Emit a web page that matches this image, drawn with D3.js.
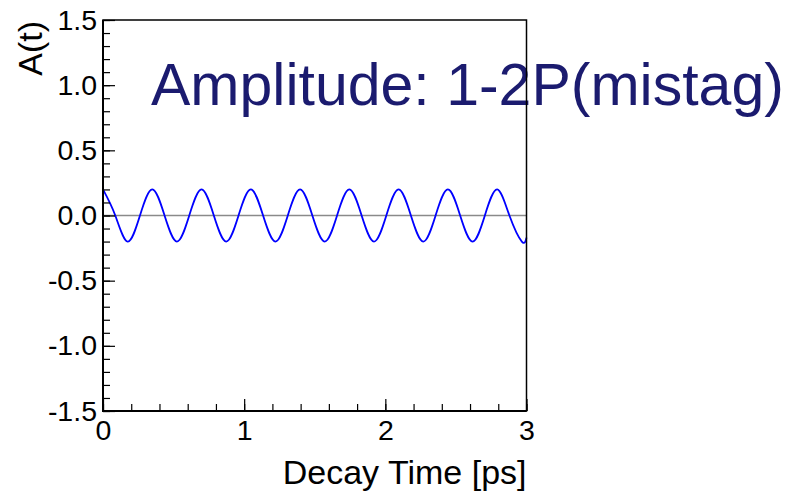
<!DOCTYPE html>
<html>
<head>
<meta charset="utf-8">
<script src="https://cdn.jsdelivr.net/npm/d3@7"></script>
<style>
  html, body { margin: 0; padding: 0; background: #fff; }
  text { font-family: "Liberation Sans", Arial, sans-serif; }
</style>
</head>
<body>
<svg id="root"></svg>
<script>
// values: peaks, zero crossings and troughs of A(t)
const decayTime = [
  0, 0.087, 0.175, 0.262, 0.349, 0.436, 0.524, 0.611, 0.698, 0.785,
  0.873, 0.960, 1.047, 1.134, 1.222, 1.309, 1.396, 1.483, 1.571, 1.658,
  1.745, 1.832, 1.920, 2.007, 2.094, 2.181, 2.269, 2.356, 2.443, 2.530,
  2.618, 2.705, 2.792, 2.879, 2.967, 3.0
];
const amplitude = [
  0.2, 0, -0.2, 0, 0.2, 0, -0.2, 0, 0.2, 0,
  -0.2, 0, 0.2, 0, -0.2, 0, 0.2, 0, -0.2, 0,
  0.2, 0, -0.2, 0, 0.2, 0, -0.2, 0, 0.2, 0,
  -0.2, 0, 0.2, 0, -0.2, -0.17
];
const xTicks = [0, 1, 2, 3];
const yTicks = [-1.5, -1.0, -0.5, 0.0, 0.5, 1.0, 1.5];
const titleText = "Amplitude: 1-2P(mistag)";
const xTitle = "Decay Time [ps]";
const yTitle = "A(t)";

const width = 785, height = 492;
const frame = { left: 103, right: 526.5, top: 20, bottom: 411 };
const fontFamily = '"Liberation Sans", Arial, sans-serif';

const svg = d3.select("#root").attr("width", width).attr("height", height);
svg.append("rect").attr("width", width).attr("height", height).attr("fill", "#fff");

const x = d3.scaleLinear().domain([0, 3]).range([frame.left, frame.right]);
const y = d3.scaleLinear().domain([-1.5, 1.5]).range([frame.bottom, frame.top]);

// zero line
svg.append("line")
  .attr("x1", x(0)).attr("x2", x(3))
  .attr("y1", y(0)).attr("y2", y(0))
  .attr("stroke", "#8a8a8a").attr("stroke-width", 1.5);

// curve
const pts = decayTime.map((t, i) => [t, amplitude[i]]);
svg.append("path")
  .datum(pts)
  .attr("fill", "none")
  .attr("stroke", "#0000ff")
  .attr("stroke-width", 1.8)
  .attr("d", d3.line().x((d) => x(d[0])).y((d) => y(d[1])).curve(d3.curveNatural));

// big title (frame is drawn over it)
svg.append("text")
  .attr("x", 151).attr("y", 105)
  .attr("fill", "#1b1b6f")
  .style("font-size", "59px")
  .text(titleText);

// minor ticks
const minorY = d3.range(-1.5, 1.5001, 0.1);
const minorX = d3.range(0, 3.0001, 0.2);
svg.append("g")
  .attr("transform", `translate(${frame.left},0)`)
  .call(d3.axisLeft(y).tickValues(minorY).tickSize(-7).tickFormat(""))
  .call((g) => g.select(".domain").remove())
  .selectAll("line").attr("stroke", "#000").attr("stroke-width", 1.2);
svg.append("g")
  .attr("transform", `translate(0,${frame.bottom})`)
  .call(d3.axisBottom(x).tickValues(minorX).tickSize(-7).tickFormat(""))
  .call((g) => g.select(".domain").remove())
  .selectAll("line").attr("stroke", "#000").attr("stroke-width", 1.2);

// major ticks + labels
const yAxis = svg.append("g")
  .attr("transform", `translate(${frame.left},0)`)
  .call(d3.axisLeft(y).tickValues(yTicks).tickSize(-12).tickPadding(6)
    .tickFormat((d) => d.toFixed(1)));
yAxis.select(".domain").remove();
yAxis.selectAll("line").attr("stroke", "#000").attr("stroke-width", 1.2);
yAxis.selectAll("text")
  .style("font-size", "28.5px").attr("fill", "#000")
  .style("font-family", fontFamily);

const xAxis = svg.append("g")
  .attr("transform", `translate(0,${frame.bottom})`)
  .call(d3.axisBottom(x).tickValues(xTicks).tickSize(-12).tickPadding(9)
    .tickFormat((d) => String(d)));
xAxis.select(".domain").remove();
xAxis.selectAll("line").attr("stroke", "#000").attr("stroke-width", 1.2);
xAxis.selectAll("text")
  .style("font-size", "28.5px").attr("fill", "#000")
  .style("font-family", fontFamily);

// frame
svg.append("rect")
  .attr("x", frame.left).attr("y", frame.top)
  .attr("width", frame.right - frame.left)
  .attr("height", frame.bottom - frame.top)
  .attr("fill", "none").attr("stroke", "#000").attr("stroke-width", 1.5);
svg.append("path")
  .attr("d", `M${frame.left},${frame.top}V${frame.bottom}H${frame.right}`)
  .attr("fill", "none").attr("stroke", "#000").attr("stroke-width", 2);

// axis titles
svg.append("text")
  .attr("x", frame.right).attr("y", 484)
  .attr("text-anchor", "end")
  .style("font-size", "34px")
  .text(xTitle);
svg.append("text")
  .attr("transform", `translate(42,${frame.top + 1}) rotate(-90)`)
  .attr("text-anchor", "end")
  .style("font-size", "34px")
  .text(yTitle);
</script>
</body>
</html>
